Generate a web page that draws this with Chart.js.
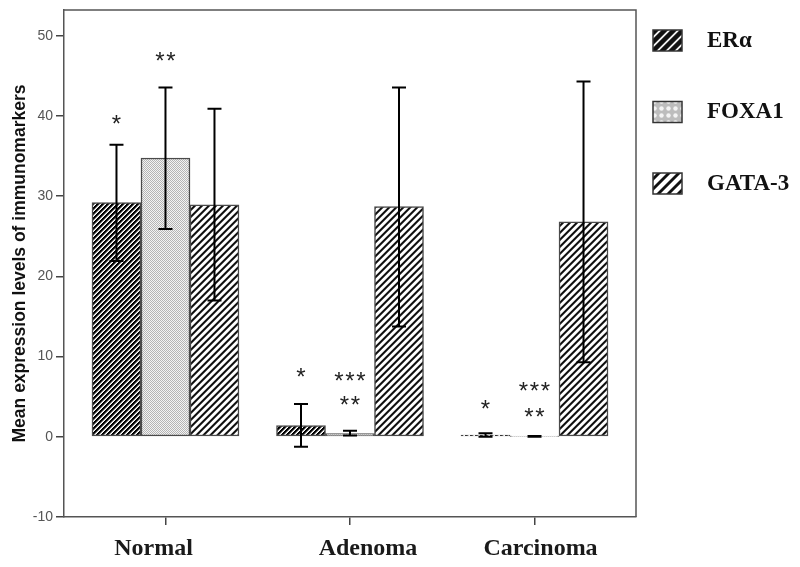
<!DOCTYPE html>
<html>
<head>
<meta charset="utf-8">
<script src="https://cdn.jsdelivr.net/npm/chart.js@4.4.1/dist/chart.umd.min.js"></script>
<style>
  html, body { margin: 0; padding: 0; background: #ffffff; }
  #wrap { width: 800px; height: 567px; position: relative; }
</style>
</head>
<body>
<div id="wrap"><canvas id="c" width="800" height="567"></canvas></div>
<script>
// ---- data ----
const categories = ['Normal', 'Adenoma', 'Carcinoma'];
const seriesNames = ['ERα', 'FOXA1', 'GATA-3'];

const eraMean   = [29.2, 1.4, 0.2];
const eraLow    = [21.9, -1.25, 0.0];
const eraHigh   = [36.4, 4.1, 0.45];

const foxa1Mean = [34.75, 0.4, 0.05];
const foxa1Low  = [25.9, 0.15, 0.0];
const foxa1High = [43.55, 0.75, 0.1];

const gata3Mean = [28.9, 28.7, 26.8];
const gata3Low  = [17.0, 13.75, 9.3];
const gata3High = [40.9, 43.55, 44.3];

const yTicks = [-10, 0, 10, 20, 30, 40, 50];

// significance marks: category index, series index, text, value position
const starCat    = [0, 0, 1, 1, 1, 2, 2, 2];
const starSeries = [0, 1, 0, 1, 1, 0, 1, 1];
const starText   = ['*', '**', '*', '***', '**', '*', '***', '**'];
const starValue  = [39.5, 47.4, 7.9, 7.4, 4.5, 4.0, 6.2, 3.0];

// ---- styling helpers ----
function pixelPattern(p, colors) {
  const c = document.createElement('canvas');
  c.width = p; c.height = p;
  const g = c.getContext('2d');
  for (let y = 0; y < p; y++) {
    for (let x = 0; x < p; x++) {
      g.fillStyle = colors[(x + y) % p];
      g.fillRect(x, y, 1, 1);
    }
  }
  return g.createPattern(c, 'repeat');
}
function dotPattern(p, bg, dot, r) {
  const c = document.createElement('canvas');
  c.width = p; c.height = p;
  const g = c.getContext('2d');
  g.fillStyle = bg; g.fillRect(0, 0, p, p);
  g.fillStyle = dot;
  g.beginPath(); g.arc(p / 2, p / 2, r, 0, Math.PI * 2); g.fill();
  return g.createPattern(c, 'repeat');
}
const fills = [
  pixelPattern(5, ['#000000', '#000000', '#333333', '#bbbbbb', '#ffffff']),
  pixelPattern(2, ['#b4b4b4', '#f3f3f3']),
  pixelPattern(7, ['#111111', '#111111', '#666666', '#ffffff', '#ffffff', '#ffffff', '#b0b0b0'])
];
const legendFills = [
  pixelPattern(9, ['#111', '#111', '#111', '#111', '#555', '#eee', '#eee', '#555', '#111']),
  dotPattern(7, '#bdbdbd', '#f4f4f4', 2.2),
  pixelPattern(10, ['#111', '#111', '#111', '#777', '#fff', '#fff', '#fff', '#fff', '#fff', '#888'])
];

const means = [eraMean, foxa1Mean, gata3Mean];
const lows  = [eraLow, foxa1Low, gata3Low];
const highs = [eraHigh, foxa1High, gata3High];

const xLabelShift = [-12, 18, 6];

const datasets = seriesNames.map((name, s) => ({
  label: name,
  data: categories.map((c, i) => ({ x: i, y: means[s][i] })),
  backgroundColor: fills[s],
  borderColor: '#4a4a4a',
  borderWidth: 1.5,
  borderSkipped: false,
  barThickness: 49
}));

const decorPlugin = {
  id: 'decor',
  afterDatasetsDraw(chart) {
    const ctx = chart.ctx;
    const ys = chart.scales.y;
    const ca = chart.chartArea;
    // error bars
    ctx.save();
    ctx.strokeStyle = '#000';
    ctx.lineWidth = 2;
    for (let s = 0; s < seriesNames.length; s++) {
      const meta = chart.getDatasetMeta(s);
      meta.data.forEach((bar, i) => {
        const x = bar.x;
        const yl = ys.getPixelForValue(lows[s][i]);
        const yh = ys.getPixelForValue(highs[s][i]);
        const cw = 7;
        ctx.beginPath();
        ctx.moveTo(x, yl); ctx.lineTo(x, yh);
        ctx.moveTo(x - cw, yh); ctx.lineTo(x + cw, yh);
        ctx.moveTo(x - cw, yl); ctx.lineTo(x + cw, yl);
        ctx.stroke();
      });
    }
    ctx.restore();
    // significance stars
    ctx.save();
    ctx.fillStyle = '#222';
    ctx.font = '24px "Liberation Sans", Arial, sans-serif';
    ctx.textAlign = 'center';
    ctx.textBaseline = 'alphabetic';
    for (let k = 0; k < starText.length; k++) {
      const bar = chart.getDatasetMeta(starSeries[k]).data[starCat[k]];
      const cy = ys.getPixelForValue(starValue[k]);
      const n = starText[k].length;
      const step = 11;
      for (let j = 0; j < n; j++) {
        const x = bar.x + (j - (n - 1) / 2) * step;
        ctx.fillText('*', x, cy + 12);
      }
    }
    ctx.restore();
    // frame (top and right)
    ctx.save();
    ctx.strokeStyle = '#555';
    ctx.lineWidth = 1.5;
    ctx.beginPath();
    ctx.moveTo(ca.left, ca.top); ctx.lineTo(ca.right, ca.top); ctx.lineTo(ca.right, ca.bottom);
    ctx.stroke();
    ctx.restore();
  },
  afterDraw(chart) {
    const ctx = chart.ctx;
    const xs = chart.scales.x;
    const ca = chart.chartArea;
    // category labels
    ctx.save();
    ctx.fillStyle = '#1a1a1a';
    ctx.font = 'bold 24px "Liberation Serif", "Times New Roman", serif';
    ctx.textAlign = 'center';
    ctx.textBaseline = 'middle';
    categories.forEach((c, i) => {
      ctx.fillText(c, xs.getPixelForValue(i) + xLabelShift[i], ca.bottom + 32);
    });
    ctx.restore();
    // legend
    ctx.save();
    const lx = ca.right + 17;
    const ly = ca.top + 20;
    const gap = 71.5;
    seriesNames.forEach((name, s) => {
      const y = ly + s * gap;
      ctx.fillStyle = legendFills[s];
      ctx.fillRect(lx, y, 29, 21);
      ctx.strokeStyle = '#333';
      ctx.lineWidth = 1.5;
      ctx.strokeRect(lx, y, 29, 21);
      ctx.fillStyle = '#111';
      ctx.font = 'bold 23px "Liberation Serif", "Times New Roman", serif';
      ctx.textAlign = 'left';
      ctx.textBaseline = 'middle';
      ctx.fillText(name, lx + 54, y + 11);
    });
    ctx.restore();
  }
};

new Chart(document.getElementById('c'), {
  type: 'bar',
  data: { datasets },
  options: {
    responsive: false,
    animation: false,
    devicePixelRatio: 1,
    layout: { padding: { top: 10, right: 164, left: 0, bottom: 0 } },
    plugins: { legend: { display: false }, tooltip: { enabled: false } },
    scales: {
      x: {
        type: 'linear',
        min: -0.55,
        max: 2.55,
        offset: false,
        afterBuildTicks: (s) => { s.ticks = categories.map((c, i) => ({ value: i })); },
        afterFit: (s) => { s.height = 50; s.paddingLeft = 0; s.paddingRight = 0; },
        ticks: { display: false },
        grid: { display: true, offset: false, drawOnChartArea: false, drawTicks: true, tickLength: 8, color: '#444', lineWidth: 1.5 },
        border: { display: true, color: '#555', width: 1.5 }
      },
      y: {
        min: -10,
        max: 53.2,
        afterBuildTicks: (s) => { s.ticks = yTicks.map(v => ({ value: v })); },
        afterFit: (s) => { s.width = 64; s.paddingTop = 0; s.paddingBottom = 0; },
        ticks: {
          color: '#555',
          padding: 3,
          font: { family: '"Liberation Sans", Arial, sans-serif', size: 14 }
        },
        grid: { display: true, drawOnChartArea: false, drawTicks: true, tickLength: 8, color: '#444', lineWidth: 1.5 },
        border: { display: true, color: '#555', width: 1.5 },
        title: {
          display: true,
          text: 'Mean expression levels of immunomarkers',
          color: '#111',
          font: { family: '"Liberation Sans", Arial, sans-serif', size: 17.5, weight: 'bold' },
          padding: { top: 9.5, bottom: 0 }
        }
      }
    }
  },
  plugins: [decorPlugin]
});
</script>
</body>
</html>
